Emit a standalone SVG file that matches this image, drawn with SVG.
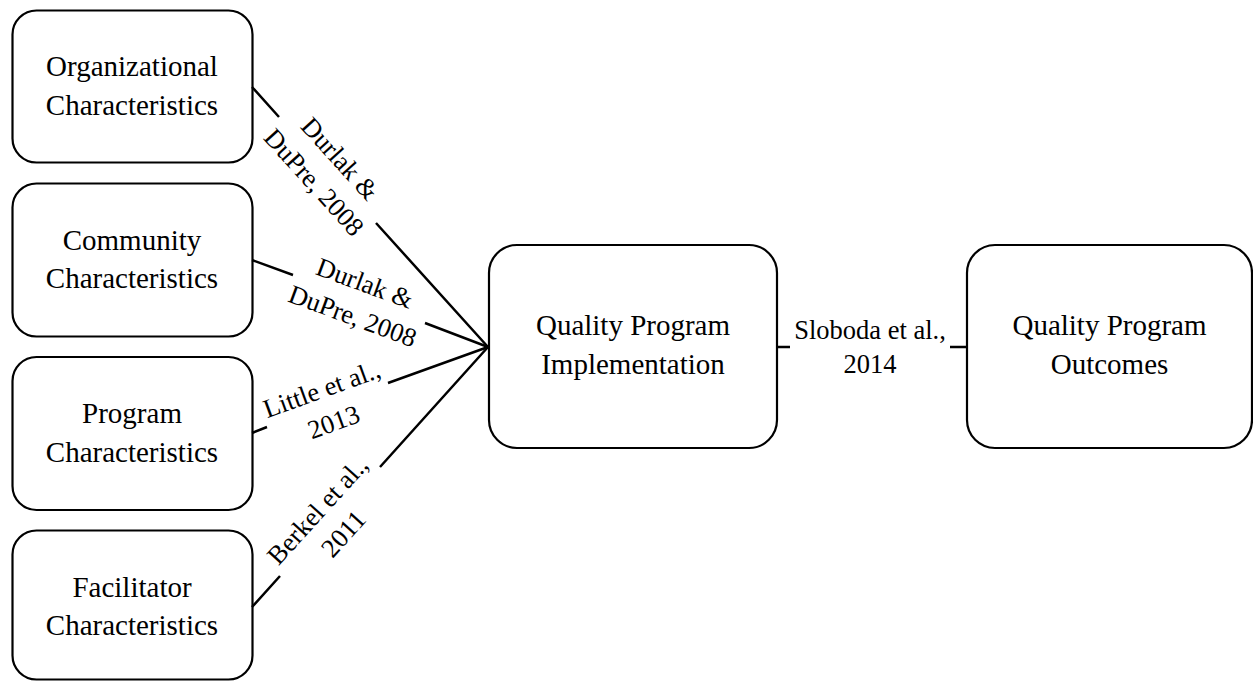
<svg xmlns="http://www.w3.org/2000/svg" width="1253" height="681" viewBox="0 0 1253 681">
<style>
.box{fill:#fff;stroke:#000;stroke-width:2.2}
.t{font-family:"Liberation Serif","Times New Roman",serif;font-size:29px;fill:#000;text-anchor:middle}
.l{font-family:"Liberation Serif","Times New Roman",serif;font-size:26.5px;fill:#000;text-anchor:middle}
.c{stroke:#000;stroke-width:2.5;fill:none;stroke-linecap:butt}
</style>
<rect width="1253" height="681" fill="#fff"/>
<g id="node-org">
<rect class="box" x="12.5" y="10.5" width="240" height="152" rx="24"/>
<text class="t" x="132" y="76">Organizational</text>
<text class="t" x="132" y="115">Characteristics</text>
</g>
<g id="node-community">
<rect class="box" x="12.5" y="183.5" width="240" height="153" rx="24"/>
<text class="t" x="132" y="250">Community</text>
<text class="t" x="132" y="288">Characteristics</text>
</g>
<g id="node-program">
<rect class="box" x="12.5" y="357" width="240" height="153" rx="24"/>
<text class="t" x="132" y="423">Program</text>
<text class="t" x="132" y="462">Characteristics</text>
</g>
<g id="node-facilitator">
<rect class="box" x="12.5" y="530.5" width="240" height="149" rx="24"/>
<text class="t" x="132" y="597">Facilitator</text>
<text class="t" x="132" y="635">Characteristics</text>
</g>
<g id="node-implementation">
<rect class="box" x="489" y="245" width="288" height="203" rx="28"/>
<text class="t" x="633" y="335">Quality Program</text>
<text class="t" x="633" y="374">Implementation</text>
</g>
<g id="node-outcomes">
<rect class="box" x="967" y="245" width="285" height="203" rx="28"/>
<text class="t" x="1109.5" y="335">Quality Program</text>
<text class="t" x="1109.5" y="374">Outcomes</text>
</g>
<g id="connectors">
<path class="c" d="M252,87 L279,117 M376,223 L488,347"/>
<path class="c" d="M252,260 L293,275 M425,323 L488,347"/>
<path class="c" d="M252,433 L267,427 M388,383 L488,347"/>
<path class="c" d="M252,607 L280,576 M380,467 L488,347"/>
<path class="c" d="M777,347 L790,347 M950,347 L967,347"/>
<g transform="translate(327.5,170) rotate(47.77)">
<text class="l" x="0" y="-8">Durlak &amp;</text>
<text class="l" x="0" y="27">DuPre, 2008</text>
</g>
<g transform="translate(359,299) rotate(20.24)">
<text class="l" x="0" y="-8">Durlak &amp;</text>
<text class="l" x="0" y="27">DuPre, 2008</text>
</g>
<g transform="translate(327.5,405) rotate(-20)">
<text class="l" x="0" y="-8">Little et al.,</text>
<text class="l" x="0" y="27">2013</text>
</g>
<g transform="translate(330,521.5) rotate(-47.77)">
<text class="l" x="0" y="-8">Berkel et al.,</text>
<text class="l" x="0" y="27">2011</text>
</g>
<text class="l" x="870" y="339">Sloboda et al.,</text>
<text class="l" x="870" y="373">2014</text>
</g>
</svg>
